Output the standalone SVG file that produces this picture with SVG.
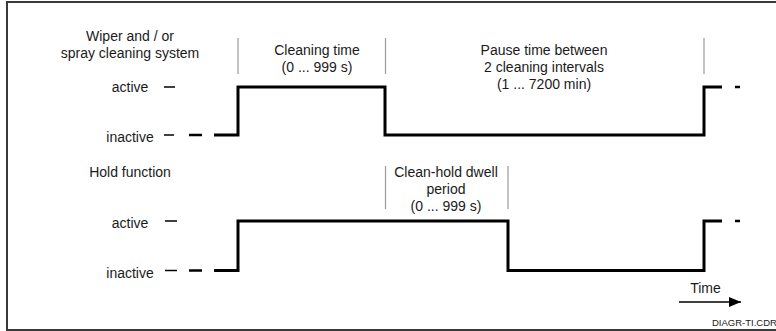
<svg xmlns="http://www.w3.org/2000/svg" width="776" height="331" viewBox="0 0 776 331">
  <style>
    text { font-family: "Liberation Sans", Arial, sans-serif; font-size: 14px; fill: #1a1a1a; }
    .c { text-anchor: middle; }
    .frame { fill: none; stroke: #3a3a3a; stroke-width: 2; }
    .tick { stroke: #9a9a9a; stroke-width: 1.2; fill: none; }
    .wave { stroke: #000; stroke-width: 3; fill: none; }
    .thin { stroke: #000; stroke-width: 1.5; }
    .mid { stroke: #000; stroke-width: 2.5; }
  </style>
  <defs>
    <marker id="arrow" markerWidth="12" markerHeight="10" refX="12" refY="5" orient="auto" markerUnits="userSpaceOnUse">
      <polygon points="0,0 12,5 0,10" fill="#000"/>
    </marker>
  </defs>

  <rect width="776" height="331" fill="#fff"/>
  <!-- outer frame (right edge runs past the canvas) -->
  <rect class="frame" x="7" y="2" width="790" height="328"/>

  <!-- upper signal: wiper / spray cleaning system -->
  <g id="cleaning-system">
    <text class="c" x="130" y="41">Wiper and / or</text>
    <text class="c" x="130" y="57.5">spray cleaning system</text>
    <text class="c" x="130" y="92">active</text>
    <text class="c" x="130" y="141.5">inactive</text>
    <line class="thin" x1="164" y1="87" x2="175" y2="87"/>
    <line class="thin" x1="164" y1="135" x2="174" y2="135"/>
    <line class="mid" x1="189" y1="135" x2="202" y2="135"/>
    <path class="wave" d="M214 135 H238 V87 H385 V135 H704 V87 H722"/>
    <line class="mid" x1="735" y1="87" x2="740" y2="87"/>
  </g>

  <g id="cleaning-time">
    <text class="c" x="317" y="54.5">Cleaning time</text>
    <text class="c" x="317" y="71.5">(0 ... 999 s)</text>
  </g>

  <g id="pause-time">
    <text class="c" x="544" y="54.5">Pause time between</text>
    <text class="c" x="544" y="71.5">2 cleaning intervals</text>
    <text class="c" x="544" y="88.5">(1 ... 7200 min)</text>
  </g>

  <!-- lower signal: hold function -->
  <g id="hold-function">
    <text class="c" x="130" y="176.5">Hold function</text>
    <text class="c" x="130" y="227.5">active</text>
    <text class="c" x="130" y="277.5">inactive</text>
    <line class="thin" x1="165" y1="221" x2="177" y2="221"/>
    <line class="thin" x1="165" y1="270.5" x2="177" y2="270.5"/>
    <line class="mid" x1="189" y1="270.5" x2="202" y2="270.5"/>
    <path class="wave" d="M214 270.5 H238 V221 H508 V270.5 H704 V221 H722"/>
    <line class="mid" x1="735" y1="221" x2="740" y2="221"/>
  </g>

  <g id="dwell-period">
    <text class="c" x="446" y="176.5">Clean-hold dwell</text>
    <text class="c" x="446" y="193.5">period</text>
    <text class="c" x="446" y="210.5">(0 ... 999 s)</text>
  </g>

  <!-- interval boundary ticks -->
  <g id="connectors">
    <line class="tick" x1="238" y1="38" x2="238" y2="74"/>
    <line class="tick" x1="385.5" y1="38" x2="385.5" y2="74"/>
    <line class="tick" x1="704" y1="38" x2="704" y2="74"/>
    <line class="tick" x1="385.5" y1="166" x2="385.5" y2="209"/>
    <line class="tick" x1="508" y1="166" x2="508" y2="209"/>
    <line x1="679" y1="302" x2="741" y2="302" stroke="#000" stroke-width="1.5" marker-end="url(#arrow)"/>
  </g>

  <g id="time-axis">
    <text class="c" x="705.5" y="293">Time</text>
  </g>

  <text x="712" y="326" style="font-size:9.5px">DIAGR-TI.CDR</text>
</svg>
